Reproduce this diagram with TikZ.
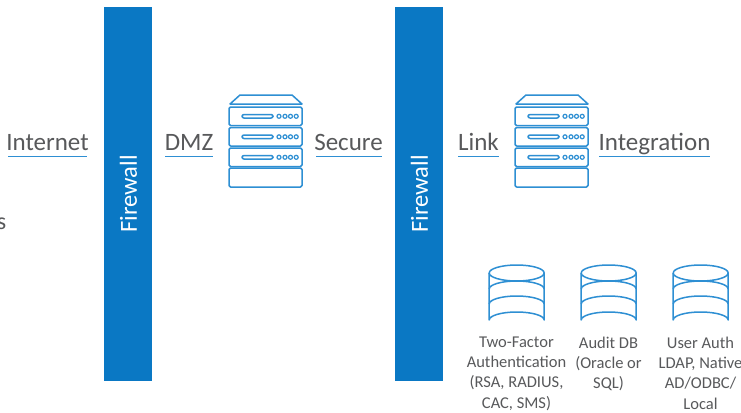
\documentclass[tikz,border=0pt]{standalone}
\usepackage{fontspec}
\setmainfont{Carlito}
\definecolor{fwblue}{HTML}{0A78C4}
\definecolor{iconblue}{HTML}{2E8FD3}
\definecolor{txtgray}{HTML}{58595B}
\tikzset{
  x=1pt,y=-1pt,
  fw/.style={fill=fwblue,draw=none,minimum width=48pt,minimum height=374pt,inner sep=0pt},
  fwtext/.style={text=white,font=\fontsize{24.5}{24.5}\selectfont,rotate=90,inner sep=0pt},
  zone/.style={text=txtgray,font=\fontsize{25}{25}\selectfont,inner sep=0pt,anchor=base},
  uline/.style={draw=iconblue,line width=1.6pt},
  ic/.style={draw=iconblue,line width=1.5pt,line join=round},
  dblabel/.style={text=txtgray,font=\fontsize{16.5}{20.3}\selectfont,align=center,inner sep=0pt,anchor=north},
  pics/serverstack/.style={code={
    \draw[ic,fill=white] (1,9) -- (11,0) -- (63,0) -- (73,9) -- cycle;
    \foreach \y in {12,32.5,53}{
      \draw[ic,rounded corners=1.5pt] (0,\y) rectangle (73,\y+18.5);
      \draw[ic,rounded corners=2pt] (13,\y+7.5) rectangle (44,\y+11);
      \foreach \c in {50,56,61.5,67.2}{\draw[ic,line width=1.2pt] (\c,\y+9.3) circle (2);}
    }
    \draw[ic,rounded corners=1.5pt] (0,73) rectangle (73,92);
  }},
  pics/dbstack/.style={code={
    \draw[ic] (-27.5,0) arc[start angle=180,end angle=-180,x radius=27.5,y radius=8];
    \draw[ic] (-27.5,0) -- (-27.5,47) arc[start angle=180,end angle=360,x radius=27.5,y radius=8] -- (27.5,0);
    \draw[ic] (-27.5,16) arc[start angle=180,end angle=360,x radius=27.5,y radius=8];
    \draw[ic] (-27.5,31) arc[start angle=180,end angle=360,x radius=27.5,y radius=8];
  }}
}
\begin{document}
\begin{tikzpicture}
\useasboundingbox (0,0) rectangle (741,412);
\clip (0,0) rectangle (741,412);
\fill[white] (0,0) rectangle (741,412);
% firewalls
\node[fw] (fwa) at (128,194) {};
\node[fw] (fwb) at (419,194) {};
\node[fwtext] (fwatext) at (128.5,194) {Firewall};
\node[fwtext] (fwbtext) at (419.5,194) {Firewall};
% zone labels
\node[zone] (internet) at (47.5,150.5) {Internet};
\node[zone] (dmz) at (189,150.5) {DMZ};
\node[zone] (secure) at (348.5,150.5) {Secure};
\node[zone] (link) at (478.5,150.5) {Link};
\node[zone] (integration) at (654.5,150.5) {Integration};
\draw[uline] (8,156.5) -- (87,156.5);
\draw[uline] (165,156.5) -- (213,156.5);
\draw[uline] (316,156.5) -- (382,156.5);
\draw[uline] (458,156.5) -- (499,156.5);
\draw[uline] (599,156.5) -- (710,156.5);
% cut-off text
\node[text=txtgray,font=\fontsize{24}{24}\selectfont,inner sep=0pt,anchor=base east] (cut) at (6.5,229) {s};
% servers
\pic at (229,95) {serverstack};
\pic at (515,95) {serverstack};
% databases
\pic at (516.7,273) {dbstack};
\pic at (608.7,273) {dbstack};
\pic at (700.7,273) {dbstack};
\node[dblabel] (lba) at (516.5,336.5) {Two-Factor\\Authentication\\(RSA, RADIUS,\\CAC, SMS)};
\node[dblabel] (lbb) at (608.5,336.5) {Audit DB\\(Oracle or\\SQL)};
\node[dblabel] (lbc) at (700.5,336.5) {User Auth\\LDAP, Native\\AD/ODBC/\\Local};
\end{tikzpicture}
\end{document}
